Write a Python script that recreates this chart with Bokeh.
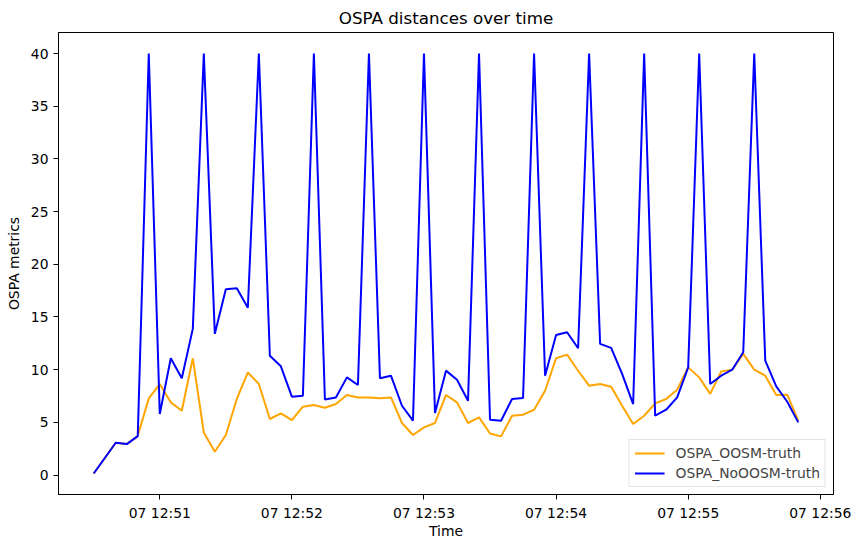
from datetime import datetime, timedelta

from bokeh.embed import file_html
from bokeh.models import DatetimeTickFormatter, FixedTicker, Range1d
from bokeh.plotting import figure
from bokeh.resources import INLINE

# Sample times, in seconds after the first measurement
start = datetime(2024, 5, 7, 12, 50, 30)
offsets_s = [0, 10, 15, 20, 25, 30, 35, 40, 45, 50, 55, 60, 65, 70, 75, 80,
             85, 90, 95, 100, 105, 110, 115, 120, 125, 130, 135, 140, 145,
             150, 155, 160, 165, 170, 175, 180, 185, 190, 195, 200, 205, 210,
             215, 220, 225, 230, 235, 240, 245, 250, 255, 260, 265, 270, 275,
             280, 285, 290, 295, 300, 305, 310, 315, 320]

# OSPA distance of the tracker with out-of-sequence measurements handled
ospa_oosm = [0.15, 3.07, 2.94, 3.7, 7.28, 8.64, 6.9, 6.11, 11.08, 4.05,
             2.21, 3.8, 7.22, 9.75, 8.64, 5.32, 5.85, 5.22, 6.49, 6.65,
             6.39, 6.74, 7.6, 7.37, 7.37, 7.28, 7.37, 4.94, 3.8, 4.52,
             4.94, 7.6, 6.9, 4.94, 5.47, 3.95, 3.67, 5.63, 5.73, 6.2,
             8.0, 11.08, 11.43, 9.9, 8.48, 8.64, 8.39, 6.58, 4.85, 5.63,
             6.8, 7.22, 8.1, 10.22, 9.27, 7.7, 9.84, 10.0, 11.5, 10.0,
             9.43, 7.6, 7.63, 5.16]

# OSPA distance of the tracker without out-of-sequence handling
ospa_no_oosm = [0.15, 3.07, 2.94, 3.7, 40.0, 5.8, 11.08, 9.18, 13.87, 40.0,
                13.4, 17.63, 17.73, 15.87, 40.0, 11.33, 10.32, 7.44, 7.53, 40.0,
                7.18, 7.37, 9.27, 8.55, 40.0, 9.18, 9.43, 6.58, 5.16, 40.0,
                5.89, 9.91, 9.05, 7.06, 40.0, 5.25, 5.16, 7.22, 7.31, 40.0,
                9.43, 13.3, 13.55, 12.03, 40.0, 12.45, 12.07, 9.6, 6.74, 40.0,
                5.63, 6.2, 7.37, 10.22, 40.0, 8.64, 9.43, 10.0, 11.65, 40.0,
                10.86, 8.42, 6.96, 5.0]

times = [start + timedelta(seconds=s) for s in offsets_s]

# Minute ticks along the time axis
tick_times = [datetime(2024, 5, 7, 12, m) for m in (51, 52, 53, 54, 55, 56)]
epoch = datetime(1970, 1, 1)
tick_ms = [(t - epoch).total_seconds() * 1000.0 for t in tick_times]

FONT = "DejaVu Sans"

span = times[-1] - times[0]
pad = span * 0.05
y_lo = min(ospa_oosm + ospa_no_oosm)
y_hi = max(ospa_oosm + ospa_no_oosm)
y_pad = (y_hi - y_lo) * 0.05

p = figure(
    width=859, height=547,
    x_axis_type="datetime",
    x_range=Range1d(times[0] - pad, times[-1] + pad),
    y_range=Range1d(y_lo - y_pad, y_hi + y_pad),
    title="OSPA distances over time",
    output_backend="svg", toolbar_location=None,
    min_border_left=58, min_border_right=26,
    min_border_top=32, min_border_bottom=53,
)

p.line(times, ospa_oosm, line_color="orange", line_width=2,
       legend_label="OSPA_OOSM-truth")
p.line(times, ospa_no_oosm, line_color="blue", line_width=2,
       legend_label="OSPA_NoOOSM-truth")

# Title
p.title.align = "center"
p.title.text_font = FONT
p.title.text_font_size = "16.7px"
p.title.text_font_style = "normal"
p.title.text_color = "black"

# Frame and grids
p.outline_line_color = "black"
p.outline_line_width = 1
p.outline_line_alpha = 1
p.xgrid.visible = False
p.ygrid.visible = False
p.background_fill_color = "white"
p.border_fill_color = "white"

# Axes
fmt = "%d %H:%M"
p.xaxis.ticker = FixedTicker(ticks=tick_ms)
p.xaxis.formatter = DatetimeTickFormatter(
    milliseconds=fmt, seconds=fmt, minsec=fmt, minutes=fmt,
    hourmin=fmt, hours=fmt, days=fmt, months=fmt, years=fmt)
p.yaxis.ticker = FixedTicker(ticks=[0, 5, 10, 15, 20, 25, 30, 35, 40])
p.xaxis.axis_label = "Time"
p.yaxis.axis_label = "OSPA metrics"

for ax in (p.xaxis[0], p.yaxis[0]):
    ax.axis_line_color = "black"
    ax.major_tick_line_color = "black"
    ax.major_tick_out = 5
    ax.major_tick_in = 0
    ax.minor_tick_line_color = None
    ax.major_label_standoff = 5
    ax.major_label_text_font = FONT
    ax.major_label_text_font_size = "13.9px"
    ax.major_label_text_color = "black"
    ax.axis_label_text_font = FONT
    ax.axis_label_text_font_size = "13.9px"
    ax.axis_label_text_font_style = "normal"
    ax.axis_label_text_color = "black"
    ax.axis_label_standoff = 6
p.xaxis[0].axis_label_standoff = -1

# Legend
lg = p.legend[0]
lg.location = "bottom_right"
lg.margin = 7
lg.padding = 5
lg.spacing = 4
lg.glyph_width = 30
lg.glyph_height = 16
lg.label_height = 16
lg.label_standoff = 11
lg.label_text_font = FONT
lg.label_text_font_size = "13.9px"
lg.border_line_color = "#cccccc"
lg.border_line_width = 1
lg.background_fill_alpha = 0.8

open("out.html", "w").write(file_html(p, INLINE))
